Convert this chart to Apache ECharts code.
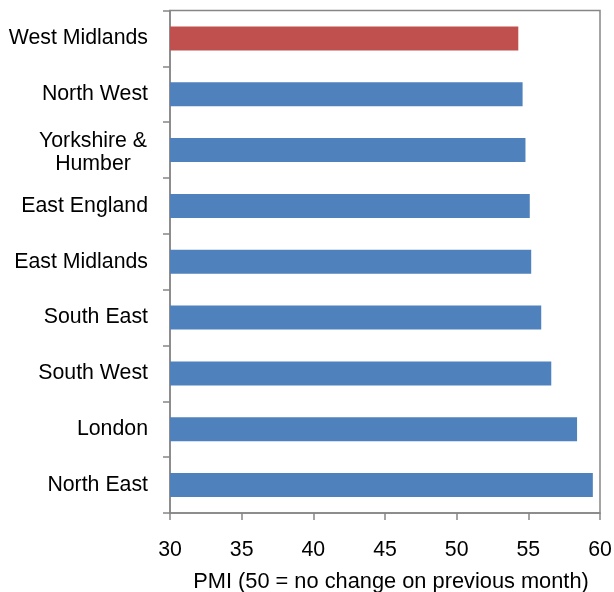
<!DOCTYPE html>
<html>
<head>
<meta charset="utf-8">
<script src="https://cdn.jsdelivr.net/npm/echarts@6/dist/echarts.min.js"></script>
<style>html,body{margin:0;padding:0;background:#fff}#c{width:614px;height:592px}</style>
</head>
<body>
<div id="c"></div>
<script>
const categories = ['West Midlands', 'North West', 'Yorkshire &\nHumber', 'East England', 'East Midlands', 'South East', 'South West', 'London', 'North East'];
const pmiValues = [54.3, 54.6, 54.8, 55.1, 55.2, 55.9, 56.6, 58.4, 59.5];
const highlighted = [true, false, false, false, false, false, false, false, false];
const xTicks = [30, 35, 40, 45, 50, 55, 60];
const axisTitle = 'PMI (50 = no change on previous month)';

const FONT = '"Liberation Sans", Arial, sans-serif';
const FS = 21.3;
const chart = echarts.init(document.getElementById('c'), null, {renderer: 'canvas'});
chart.setOption({
  animation: false,
  grid: {left: 170, right: 14, top: 10.5, bottom: 79, show: true, borderColor: '#868686', borderWidth: 1.5, containLabel: false, outerBoundsMode: 'none'},
  xAxis: {
    type: 'value', min: xTicks[0], max: xTicks[xTicks.length - 1], interval: 5,
    name: axisTitle, nameLocation: 'middle', nameGap: 58,
    nameTextStyle: {fontFamily: FONT, fontSize: 21.8, color: '#000', padding: [0, 0, 0, 12]},
    axisLine: {show: true, lineStyle: {color: '#868686', width: 1.5}},
    axisTick: {show: true, length: 7, lineStyle: {color: '#868686', width: 1.5}},
    axisLabel: {fontFamily: FONT, fontSize: FS, color: '#000', margin: 27},
    splitLine: {show: false}
  },
  yAxis: {
    type: 'category', data: categories, inverse: true,
    axisLine: {show: true, lineStyle: {color: '#868686', width: 1.5}},
    axisTick: {show: true, length: 7, alignWithLabel: false, lineStyle: {color: '#868686', width: 1.5}},
    axisLabel: {
      fontFamily: FONT, fontSize: FS, color: '#000', margin: 22, lineHeight: 23,
      formatter: v => v.indexOf('\n') >= 0 ? v.split('\n').map(l => '{c|' + l + '}').join('\n') : v,
      rich: {c: {fontFamily: FONT, fontSize: FS, color: '#000', width: 110, align: 'center', lineHeight: 23, padding: [6, 0, 0, 0]}}
    }
  },
  series: [{
    type: 'bar', barWidth: 24,
    data: pmiValues.map((v, i) => ({value: v, itemStyle: {color: highlighted[i] ? '#C0504D' : '#4F81BD'}})),
    silent: true
  }]
});
</script>
</body>
</html>
